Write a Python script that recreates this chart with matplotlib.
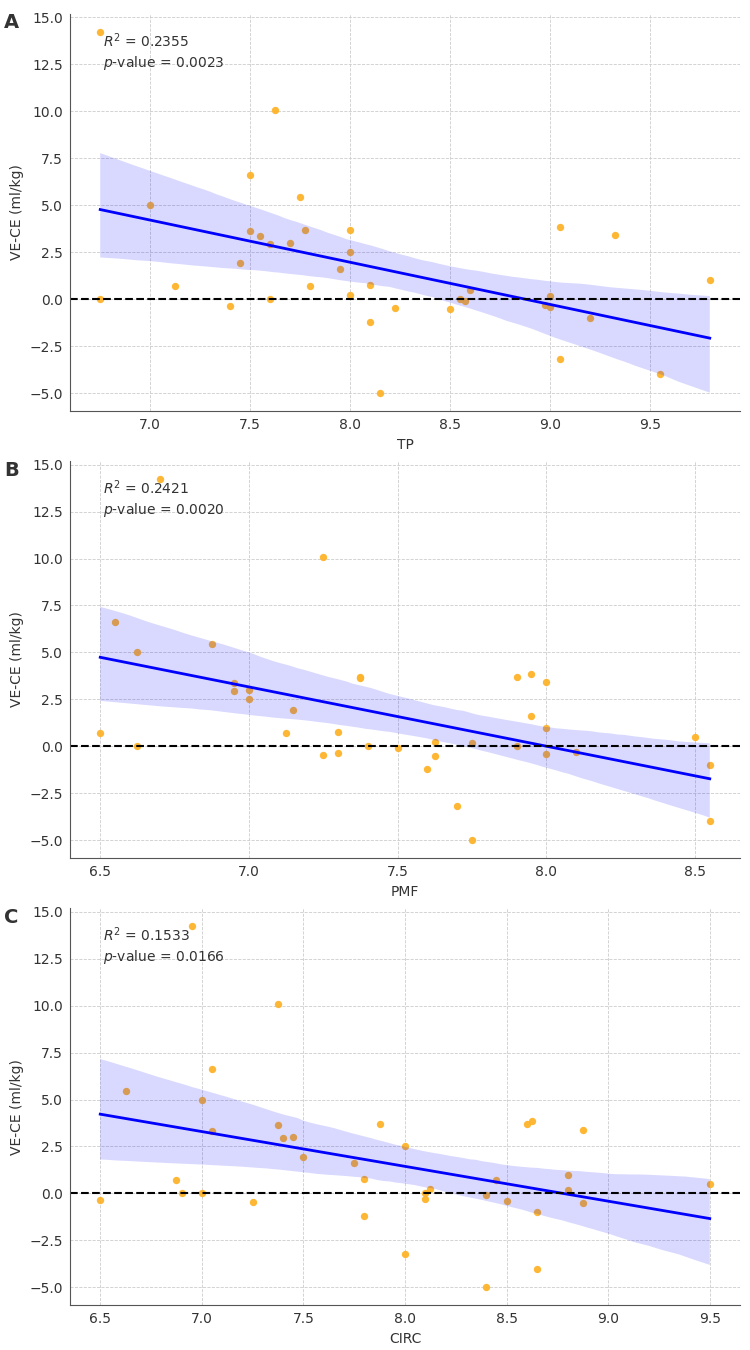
import matplotlib
matplotlib.use("Agg")
import matplotlib.pyplot as plt
import seaborn as sns
import numpy as np

# VE-CE values (ml/kg), one per subject
ve_ce = [14.25, 10.1, 6.6, 5.45, 5.0, 3.85, 3.7, 3.7, 3.65, 3.4, 3.35, 3.0, 2.95,
         2.5, 1.95, 1.6, 1.0, 0.75, 0.7, 0.7, 0.5, 0.25, 0.2, 0.0, 0.0, 0.0,
         -0.1, -0.3, -0.35, -0.4, -0.45, -0.5, -1.0, -1.2, -3.2, -4.0, -5.0]

tp = [6.75, 7.625, 7.5, 7.75, 7.0, 9.05, 7.775, 8.0, 7.5, 9.325, 7.55, 7.7, 7.6,
      8.0, 7.45, 7.95, 9.8, 8.1, 7.125, 7.8, 8.6, 8.0, 9.0, 6.75, 7.6, 8.55,
      8.575, 8.975, 7.4, 9.0, 8.225, 8.5, 9.2, 8.1, 9.05, 9.55, 8.15]

pmf = [6.7, 7.25, 6.55, 6.875, 6.625, 7.95, 7.9, 7.375, 7.375, 8.0, 6.95, 7.0, 6.95,
       7.0, 7.15, 7.95, 8.0, 7.3, 6.5, 7.125, 8.5, 7.625, 7.75, 6.625, 7.4, 7.9,
       7.5, 8.1, 7.3, 8.0, 7.25, 7.625, 8.55, 7.6, 7.7, 8.55, 7.75]

circ = [6.95, 7.375, 7.05, 6.625, 7.0, 8.625, 7.875, 8.6, 7.375, 8.875, 7.05, 7.45, 7.4,
        8.0, 7.5, 7.75, 8.8, 7.8, 6.875, 8.45, 9.5, 8.125, 8.8, 6.9, 7.0, 8.1,
        8.4, 8.1, 6.5, 8.5, 7.25, 8.875, 8.65, 7.8, 8.0, 8.65, 8.4]

letters = ["A", "B", "C"]
xnames = ["TP", "PMF", "CIRC"]
xdata = [tp, pmf, circ]
r2_txt = ["0.2355", "0.2421", "0.1533"]
p_txt = ["0.0023", "0.0020", "0.0166"]

fig, axes = plt.subplots(3, 1, figsize=(7.5, 13.5), dpi=100)
fig.subplots_adjust(left=0.093, right=0.987, top=0.990, bottom=0.033, hspace=0.124)

y = np.array(ve_ce)
for ax, letter, name, xs, r2, p in zip(axes, letters, xnames, xdata, r2_txt, p_txt):
    ax.grid(True, color="#cccccc", linestyle="--", linewidth=0.6)
    ax.set_axisbelow(True)
    sns.regplot(x=np.array(xs), y=y, ax=ax, seed=3,
                scatter_kws={"color": "#fdb32a", "s": 28, "alpha": 0.95,
                             "linewidths": 0},
                line_kws={"color": "blue", "linewidth": 2})
    ax.axhline(0, color="black", linestyle="--", linewidth=1.5)

    ax.set_xlabel(name, fontsize=10, color="#333333")
    ax.set_ylabel("VE-CE (ml/kg)", fontsize=10, color="#333333")
    ax.set_yticks([-5, -2.5, 0, 2.5, 5, 7.5, 10, 12.5, 15])
    ax.tick_params(labelsize=10, colors="#333333", length=0, pad=5)
    for s in ["top", "right"]:
        ax.spines[s].set_visible(False)
    for s in ["left", "bottom"]:
        ax.spines[s].set_color("#555555")

    ax.text(0.05, 0.955, "$R^2$ = " + r2 + "\n$p$-value = " + p,
            transform=ax.transAxes, va="top", ha="left", fontsize=10,
            color="#333333", linespacing=1.3)

    pos = ax.get_position()
    fig.text(0.005, pos.y1, letter, fontsize=14, fontweight="bold",
             color="#333333", va="top", ha="left")

fig.savefig("out.png", dpi=100)
